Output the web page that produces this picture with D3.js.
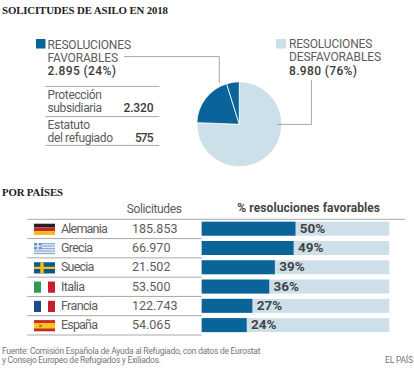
<!DOCTYPE html>
<html><head><meta charset="utf-8">
<script src="https://cdnjs.cloudflare.com/ajax/libs/d3/7.8.5/d3.min.js"></script>
<style>html,body{margin:0;padding:0;background:#fff}svg{display:block}</style>
</head><body><svg id="c" width="414" height="368"></svg>
<script>
const pieLabels = ["Desfavorables","Protección subsidiaria","Estatuto del refugiado"];
const pieValues = [8980,2320,575];
const countries = ["Alemania","Grecia","Suecia","Italia","Francia","España"];
const countryWidths = [46.7,32,33.3,24,37,37];
const requests = ["185.853","66.970","21.502","53.500","122.743","54.065"];
const favourable = [50,49,39,36,27,24];
const flagKeys = ["de","gr","se","it","fr","es"];

const BLUE="#0a6399", LIGHT="#cde0ea", TXT="#5c5c5c", DARK="#3a3a3a", RULE="#a8a8a8";
const sans="Roboto, 'Open Sans', sans-serif", serif="'Liberation Serif', serif";
const svg=d3.select("#c");
function t(x,y,s,o={}){const e=svg.append("text").attr("x",x).attr("y",y).text(s)
 .attr("font-family",o.f||sans).attr("font-size",o.s||11.5).attr("font-weight",o.w||400)
 .attr("fill",o.c||TXT).attr("text-anchor",o.a||"start");
 if(o.tl)e.attr("textLength",o.tl).attr("lengthAdjust","spacing");return e;}
function l(x1,y1,x2,y2,c=RULE,w=1){svg.append("line").attr("x1",x1).attr("y1",y1).attr("x2",x2).attr("y2",y2).attr("stroke",c).attr("stroke-width",w);}

t(2,14,"SOLICITUDES DE ASILO EN 2018",{f:serif,w:700,s:10.8,c:"#222",tl:166});
t(2,196,"POR PAÍSES",{f:serif,w:700,s:10.8,c:"#222",tl:61});

svg.append("rect").attr("x",36).attr("y",39).attr("width",9.5).attr("height",9.5).attr("fill",BLUE);
t(47.5,48.7,"RESOLUCIONES",{s:12,tl:83.5});
t(47.5,61.7,"FAVORABLES",{s:12,tl:70.5});
t(47.5,74.7,"2.895 (24%)",{s:12,w:500,c:DARK,tl:68.5});
l(45.3,86.4,159.3,86.4);
t(47.5,98.7,"Protección",{s:12,tl:54.5});
t(47.5,112.2,"subsidiaria",{s:12,tl:54.5});
t(123.5,112.2,"2.320",{s:12,w:500,c:DARK,tl:30});
l(45.3,116.6,159.3,116.6);
t(47.5,129,"Estatuto",{s:12,tl:42.5});
t(47.5,141.7,"del refugiado",{s:12,tl:65.5});
t(135,141.7,"575",{s:12,w:500,c:DARK,tl:18.5});
l(45.3,145.4,159.3,145.4);

svg.append("rect").attr("x",276).attr("y",39).attr("width",10).attr("height",9.5).attr("fill",LIGHT);
t(289,48.4,"RESOLUCIONES",{s:12,tl:83.3});
t(289,61.4,"DESFAVORABLES",{s:12,tl:92});
t(289,74.7,"8.980 (76%)",{s:12,w:500,c:DARK,tl:68});

const cx=239.3, cy=124.3, R=42.5;
const pie=d3.pie().sort(null)(pieValues);
const arc=d3.arc().innerRadius(0).outerRadius(R);
svg.append("g").attr("transform",`translate(${cx},${cy})`).selectAll("path").data(pie).join("path")
 .attr("d",arc).attr("fill",(d,i)=>i?BLUE:LIGHT).attr("stroke","#fff").attr("stroke-width",0.8);
svg.append("polyline").attr("points","124,56.6 219.3,56.6 219.3,83").attr("fill","none").attr("stroke",RULE);
svg.append("polyline").attr("points","277,124.4 311.4,124.4 311.4,80").attr("fill","none").attr("stroke",RULE);

const y=d3.scaleBand().domain(countries).range([219.3,335]);
const x=d3.scaleLinear().domain([0,100]).range([201.7,389.3]);
t(126.7,212.5,"Solicitudes",{s:12,tl:55.3});
t(237.3,212.3,"% resoluciones favorables",{s:12,w:700,c:"#444",tl:142.7});
l(27.3,219.3,405,219.3);
countries.forEach((c,i)=>{
  const y0=y(c), b=y.bandwidth();
  l(27.3,y0+b,201.7,y0+b);
  svg.append("rect").attr("x",x(0)).attr("y",y0+2.4).attr("width",x(100)-x(0)).attr("height",14).attr("fill",LIGHT);
  svg.append("rect").attr("x",x(0)).attr("y",y0+2.4).attr("width",x(favourable[i])-x(0)).attr("height",14).attr("fill",BLUE);
  t(x(favourable[i])+4.3,y0+13.6,favourable[i]+"%",{s:13.5,w:700,c:"#444"});
  t(61,y0+13.6,c,{s:12.5,tl:countryWidths[i]});
  t(132,y0+13.6,requests[i],{s:12.5});
  drawFlag(flagKeys[i],34,y0+4.4,21,11.2);
});
function drawFlag(k,fx,fy,w,h){
  const g=svg.append("g");
  const r=(a,b,c,d,col)=>g.append("rect").attr("x",fx+a*w).attr("y",fy+b*h).attr("width",c*w).attr("height",d*h).attr("fill",col);
  if(k=="de"){r(0,0,1,1/3,"#222");r(0,1/3,1,1/3,"#c9252b");r(0,2/3,1,1/3,"#f2b81c");}
  if(k=="gr"){r(0,0,1,1,"#8fabd0");[1,3,5,7].forEach(i=>r(0,i/9,1,1/9,"#e8eef5"));r(0,0,.37,5/9,"#6d90c2");r(.15,0,.07,5/9,"#eef");r(0,2/9,.37,1/9,"#eef");}
  if(k=="se"){r(0,0,1,1,"#11568f");r(.3,0,.16,1,"#f0c419");r(0,.4,1,.2,"#f0c419");}
  if(k=="it"){r(0,0,1/3,1,"#2f9a55");r(2/3,0,1/3,1,"#c5202e");}
  if(k=="fr"){r(0,0,1/3,1,"#1d4a8a");r(2/3,0,1/3,1,"#c5202e");}
  if(k=="es"){r(0,0,1,1,"#c9252b");r(0,.25,1,.5,"#f5c518");r(.25,.42,.12,.2,"#b5651d");}
}

t(2,353.5,"Fuente: Comisión Española de Ayuda al Refugiado, con datos de Eurostat",{s:8.5,c:"#777",tl:258.5});
t(2,363,"y Consejo Europeo de Refugiados y Exiliados.",{s:8.5,c:"#777",tl:159});
t(385,363,"EL PAÍS",{s:8.5,c:"#777",tl:28});
</script></body></html>
